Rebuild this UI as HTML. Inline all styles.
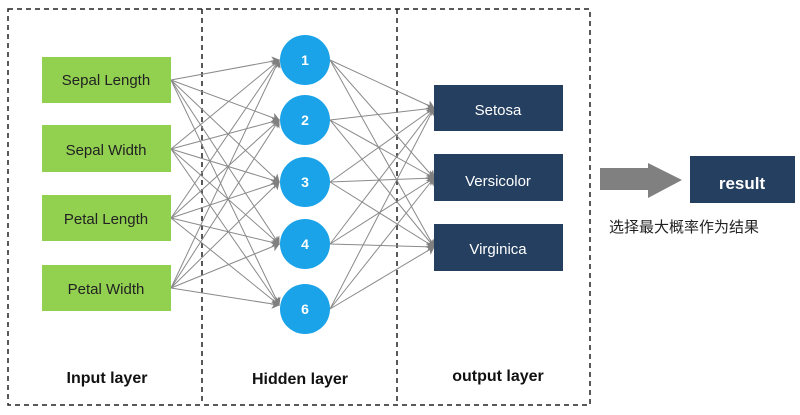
<!DOCTYPE html>
<html><head><meta charset="utf-8"><style>
body{margin:0;width:800px;height:415px;background:#fff;overflow:hidden}
svg{display:block}
text{font-family:"Liberation Sans","Noto Sans CJK SC",sans-serif}
</style></head><body>
<svg width="800" height="415" viewBox="0 0 800 415">
<defs><marker id="a" markerWidth="8" markerHeight="10" refX="7" refY="5" orient="auto" markerUnits="userSpaceOnUse"><path d="M0,0 L8,5 L0,10 L2,5 z" fill="#808080"/></marker></defs>
<rect x="8" y="9" width="582" height="396" fill="none" stroke="#222" stroke-width="1.5" stroke-dasharray="5,4"/>
<line x1="202" y1="9" x2="202" y2="405" stroke="#222" stroke-width="1.5" stroke-dasharray="5,4"/>
<line x1="397" y1="9" x2="397" y2="405" stroke="#222" stroke-width="1.5" stroke-dasharray="5,4"/>
<g stroke="#8a8a8a" stroke-width="1" marker-end="url(#a)">
<!-- input to hidden -->
<line x1="171" y1="80" x2="279" y2="60"/><line x1="171" y1="80" x2="279" y2="120"/><line x1="171" y1="80" x2="279" y2="182"/><line x1="171" y1="80" x2="279" y2="244"/><line x1="171" y1="80" x2="279" y2="305"/>
<line x1="171" y1="149" x2="279" y2="60"/><line x1="171" y1="149" x2="279" y2="120"/><line x1="171" y1="149" x2="279" y2="182"/><line x1="171" y1="149" x2="279" y2="244"/><line x1="171" y1="149" x2="279" y2="305"/>
<line x1="171" y1="218" x2="279" y2="60"/><line x1="171" y1="218" x2="279" y2="120"/><line x1="171" y1="218" x2="279" y2="182"/><line x1="171" y1="218" x2="279" y2="244"/><line x1="171" y1="218" x2="279" y2="305"/>
<line x1="171" y1="288" x2="279" y2="60"/><line x1="171" y1="288" x2="279" y2="120"/><line x1="171" y1="288" x2="279" y2="182"/><line x1="171" y1="288" x2="279" y2="244"/><line x1="171" y1="288" x2="279" y2="305"/>
<!-- hidden to output -->
<line x1="330" y1="60" x2="434" y2="108"/><line x1="330" y1="60" x2="434" y2="178"/><line x1="330" y1="60" x2="434" y2="247"/>
<line x1="330" y1="120" x2="434" y2="108"/><line x1="330" y1="120" x2="434" y2="178"/><line x1="330" y1="120" x2="434" y2="247"/>
<line x1="330" y1="182" x2="434" y2="108"/><line x1="330" y1="182" x2="434" y2="178"/><line x1="330" y1="182" x2="434" y2="247"/>
<line x1="330" y1="244" x2="434" y2="108"/><line x1="330" y1="244" x2="434" y2="178"/><line x1="330" y1="244" x2="434" y2="247"/>
<line x1="330" y1="309" x2="434" y2="108"/><line x1="330" y1="309" x2="434" y2="178"/><line x1="330" y1="309" x2="434" y2="247"/>
</g>
<g fill="#92d050">
<rect x="42" y="57" width="129" height="46"/><rect x="42" y="125" width="129" height="47"/><rect x="42" y="195" width="129" height="46"/><rect x="42" y="265" width="129" height="46"/>
</g>
<g font-size="15" fill="#222" text-anchor="middle">
<text x="106" y="85">Sepal Length</text><text x="106" y="155">Sepal Width</text><text x="106" y="224">Petal Length</text><text x="106" y="294">Petal Width</text>
</g>
<g fill="#1aa3e8">
<circle cx="305" cy="60" r="25"/><circle cx="305" cy="120" r="25"/><circle cx="305" cy="182" r="25"/><circle cx="305" cy="244" r="25"/><circle cx="305" cy="309" r="25"/>
</g>
<g fill="#fff" font-size="14" font-weight="bold" text-anchor="middle">
<text x="305" y="65">1</text><text x="305" y="125">2</text><text x="305" y="187">3</text><text x="305" y="249">4</text><text x="305" y="314">6</text>
</g>
<g fill="#243f60">
<rect x="434" y="85" width="129" height="46"/><rect x="434" y="154" width="129" height="47"/><rect x="434" y="224" width="129" height="47"/><rect x="690" y="156" width="105" height="47"/>
</g>
<g fill="#fff" font-size="15" text-anchor="middle">
<text x="498" y="115">Setosa</text><text x="498" y="186">Versicolor</text><text x="498" y="254">Virginica</text>
<text x="742" y="189" font-weight="bold" font-size="17">result</text>
</g>
<polygon points="600,168 648,168 648,163 682,180 648,198 648,190 600,190" fill="#808080"/>
<text x="609" y="232" font-size="15" fill="#222">选择最大概率作为结果</text>
<g font-size="16" font-weight="bold" fill="#111" text-anchor="middle">
<text x="107" y="383">Input layer</text><text x="300" y="384">Hidden layer</text><text x="498" y="381">output layer</text>
</g>
</svg>
</body></html>
